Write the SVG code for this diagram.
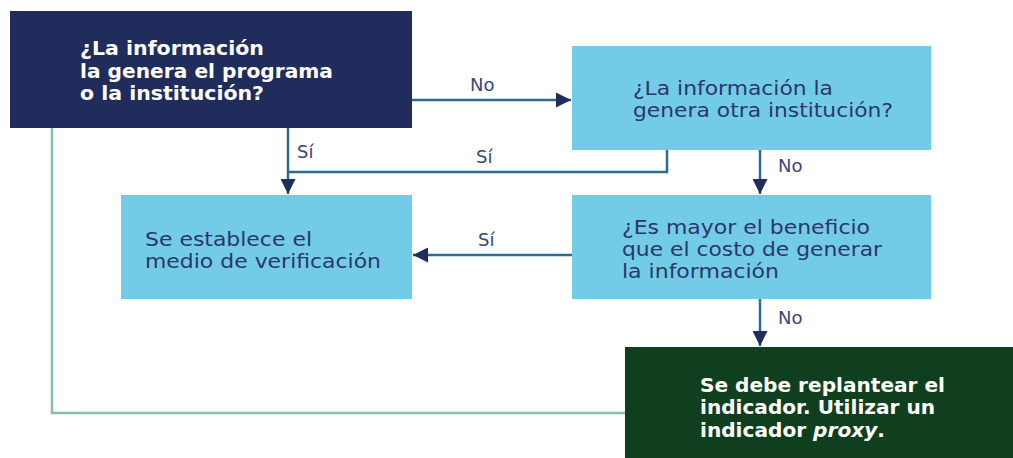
<svg xmlns="http://www.w3.org/2000/svg" width="1013" height="458" viewBox="0 0 1013 458">
<defs>
<style>
.t{font-family:"DejaVu Sans","Liberation Sans",Arial,sans-serif;font-size:19px;}
.w{fill:#ffffff;font-weight:bold;}
.d{fill:#2b3768;}
.lbl{font-family:"DejaVu Sans","Liberation Sans",Arial,sans-serif;font-size:18px;fill:#3a4778;}
.c{fill:none;stroke:#2c6b98;stroke-width:2.5;}
.g{fill:none;stroke:#8dbcac;stroke-width:2.5;}
</style>
<marker id="ah" viewBox="0 0 10 10" refX="10" refY="5" markerWidth="6" markerHeight="6" markerUnits="strokeWidth" orient="auto">
<path d="M0,0 L10,5 L0,10 Z" fill="#1f2c5c"/>
</marker>
</defs>
<rect width="1013" height="458" fill="#ffffff"/>
<g id="connectors">
<path class="g" d="M52,128 V413 H625"/>
<path class="c" d="M412,100 H571" marker-end="url(#ah)"/>
<path class="c" d="M288,128 V194" marker-end="url(#ah)"/>
<path class="c" d="M667,150 V172 H288"/>
<path class="c" d="M760,150 V194" marker-end="url(#ah)"/>
<path class="c" d="M572,255 H413" marker-end="url(#ah)"/>
<path class="c" d="M760,299 V346" marker-end="url(#ah)"/>
<text class="lbl" x="470" y="91">No</text>
<text class="lbl" x="297" y="158">Sí</text>
<text class="lbl" x="476" y="163">Sí</text>
<text class="lbl" x="778" y="172">No</text>
<text class="lbl" x="478" y="246">Sí</text>
<text class="lbl" x="778" y="324">No</text>
</g>
<g id="n1">
<rect x="10" y="11" width="402" height="117" fill="#1f2c5c"/>
<text class="t w" x="80" y="55" textLength="184" lengthAdjust="spacingAndGlyphs">¿La información</text>
<text class="t w" x="80" y="78" textLength="253" lengthAdjust="spacingAndGlyphs">la genera el programa</text>
<text class="t w" x="80" y="100" textLength="184" lengthAdjust="spacingAndGlyphs">o la institución?</text>
</g>
<g id="n2">
<rect x="572" y="46" width="359" height="104" fill="#72cce8"/>
<text class="t d" x="633" y="95" textLength="200" lengthAdjust="spacingAndGlyphs">¿La información la</text>
<text class="t d" x="633" y="117" textLength="260" lengthAdjust="spacingAndGlyphs">genera otra institución?</text>
</g>
<g id="n3">
<rect x="121" y="195" width="291" height="104" fill="#72cce8"/>
<text class="t d" x="145" y="246" textLength="167" lengthAdjust="spacingAndGlyphs">Se establece el</text>
<text class="t d" x="145" y="268" textLength="236" lengthAdjust="spacingAndGlyphs">medio de verificación</text>
</g>
<g id="n4">
<rect x="572" y="195" width="359" height="104" fill="#72cce8"/>
<text class="t d" x="622" y="234" textLength="248" lengthAdjust="spacingAndGlyphs">¿Es mayor el beneficio</text>
<text class="t d" x="622" y="256" textLength="260" lengthAdjust="spacingAndGlyphs">que el costo de generar</text>
<text class="t d" x="622" y="278" textLength="157" lengthAdjust="spacingAndGlyphs">la información</text>
</g>
<g id="n5">
<rect x="625" y="347" width="388" height="111" fill="#0f3f1f"/>
<text class="t w" x="700" y="392" textLength="245" lengthAdjust="spacingAndGlyphs">Se debe replantear el</text>
<text class="t w" x="700" y="414" textLength="235" lengthAdjust="spacingAndGlyphs">indicador. Utilizar un</text>
<text class="t w" x="700" y="437" textLength="185" lengthAdjust="spacingAndGlyphs">indicador <tspan font-style="italic">proxy</tspan>.</text>
</g>
</svg>
